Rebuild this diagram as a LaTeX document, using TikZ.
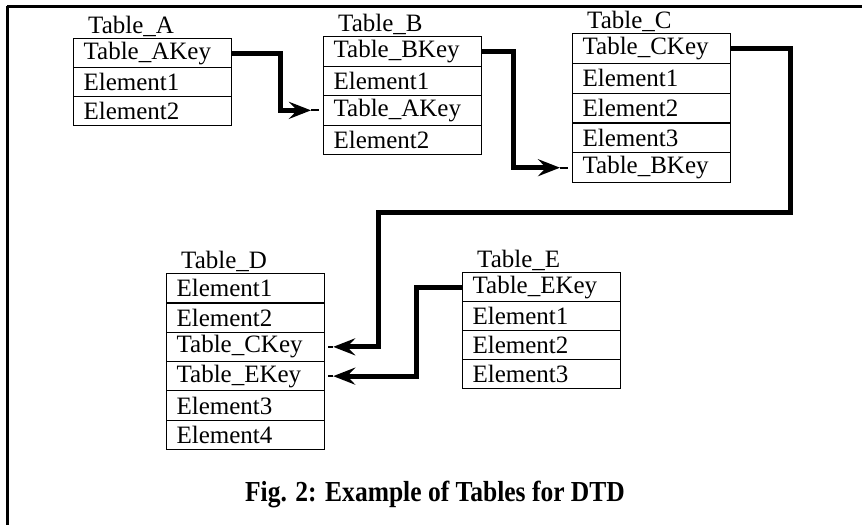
\documentclass[tikz,border=0pt]{standalone}
\usepackage{fontspec}
\setmainfont{Liberation Serif}
\usetikzlibrary{arrows.meta,calc}

\tikzset{
  tabrow/.style={draw, line width=1.2pt, anchor=north west,
    minimum width=158pt, text width=138pt, inner xsep=10pt, inner ysep=0pt,
    align=left, font=\fontsize{25}{25}\selectfont},
  tabtitle/.style={anchor=base west, inner sep=0pt, font=\fontsize{25}{25}\selectfont},
  conn/.style={line width=5pt, line join=miter,
    -{Stealth[length=22pt, width=17pt, inset=8pt]}},
  stub/.style={line width=1.8pt},
  frame/.style={line width=3pt},
  caption/.style={font=\fontsize{29}{29}\selectfont\bfseries, inner sep=0pt}
}

% \dbtable{name}{left x}{top y}{row height}{title}{rows}
\newcommand\dbtable[6]{%
  \node[tabtitle] (#1-t) at ({#2+15}, {#3-5}) {#5};
  \foreach \txt [count=\i] in {#6} {
    \node[tabrow, minimum height=#4pt] (#1-\i) at (#2, {#3+(\i-1)*#4}) {\txt};
  }
}

\begin{document}
\begin{tikzpicture}[x=1pt, y=-1pt]
  \useasboundingbox (0,0) rectangle (862,525);

  % frame: top and left rules
  \draw[frame] (7,6) -- (862,6);
  \draw[frame] (7,6) -- (7,525);

  % tables
  \dbtable{A}{73}{38}{29}{Table\_A}{Table\_AKey, Element1, Element2}
  \dbtable{B}{323}{36}{29.5}{Table\_B}{Table\_BKey, Element1, Table\_AKey, Element2}
  \dbtable{C}{572}{33}{29.8}{Table\_C}{Table\_CKey, Element1, Element2, Element3, Table\_BKey}
  \dbtable{D}{166}{273}{29.3}{Table\_D}{Element1, Element2, Table\_CKey, Table\_EKey, Element3, Element4}
  \dbtable{E}{462}{272}{29}{Table\_E}{Table\_EKey, Element1, Element2, Element3}

  % arrow tip positions just off the target rows
  \coordinate (tipAB) at ($(B-3.west)+(-12,0)$);
  \coordinate (tipBC) at ($(C-5.west)+(-12,0)$);
  \coordinate (tipCD) at ($(D-3.east)+(8,0)$);
  \coordinate (tipED) at ($(D-4.east)+(8,0)$);

  % key references
  \draw[conn] (A-1.east) -| (280,80) |- (tipAB);
  \draw[stub] (tipAB) -- ++(8,0);

  \draw[conn] (B-1.east) -| (513,100) |- (tipBC);
  \draw[stub] (tipBC) -- ++(8,0);

  \draw[conn] (C-1.east) -| (790,212) -- (378,212) |- (tipCD);
  \draw[stub] (tipCD) -- ++(-5,0);

  \draw[conn] (E-1.west) -| (416,330) |- (tipED);
  \draw[stub] (tipED) -- ++(-5,0);

  % caption
  \node[caption] (cap) at (435,494) {\scalebox{0.88}[1]{Fig. 2: Example of Tables for DTD}};
\end{tikzpicture}
\end{document}
